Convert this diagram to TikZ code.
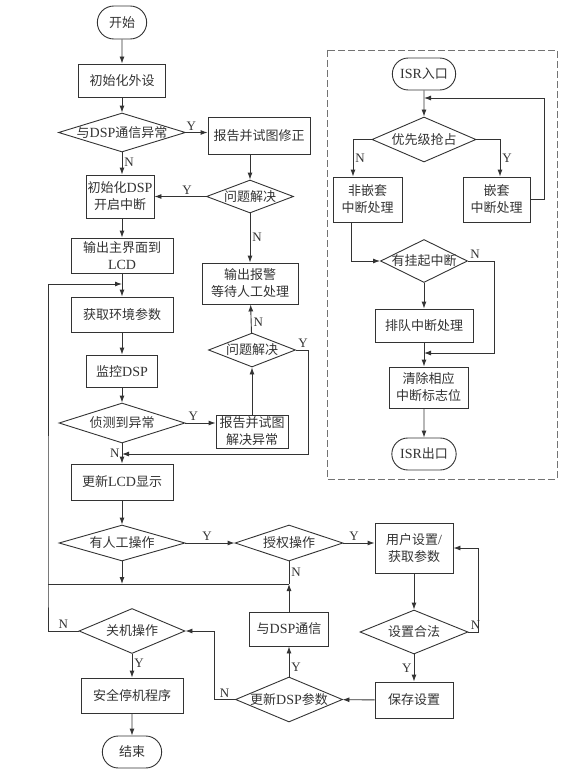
\documentclass[tikz,border=0pt]{standalone}
\usepackage{fontspec}
\setmainfont{Liberation Serif}
\newfontfamily\cjk{Noto Sans CJK SC}
\newcommand\latn[1]{{\rmfamily\fontsize{14}{17}\selectfont #1}}
\usetikzlibrary{shapes.geometric,shapes.misc,arrows.meta}

\begin{document}
\begin{tikzpicture}[x=1pt, y=-1pt, line width=0.9pt, color=black!80,
    font=\cjk\fontsize{13}{17}\selectfont, >={Latex[length=7pt,width=5pt]},
    proc/.style 2 args={draw, rectangle, minimum width=#1, minimum height=#2, align=center, inner sep=1pt},
    dec/.style 2 args={draw, diamond, minimum width=#1, minimum height=#2, inner sep=0pt},
    term/.style 2 args={draw, rounded rectangle, minimum width=#1, minimum height=#2},
    yn/.style={font=\rmfamily\fontsize{13}{14}\selectfont, inner sep=2pt}]
    \useasboundingbox (0,0) rectangle (587,776);

    % main loop
    \node[term={56pt}{33pt}] (start) at (122,22.5) {开始};
    \node[proc={87pt}{33pt}] (initdev) at (122,80.5) {初始化外设};
    \node[dec={127pt}{39pt}, label={center:与\latn{DSP}通信异常}] (chkcom) at (122,132.5) {};
    \node[proc={102pt}{37pt}] (report) at (259,135.5) {报告并试图修正};
    \node[dec={87pt}{33pt}, label={center:问题解决}] (solved) at (250,196.5) {};
    \node[proc={68pt}{43pt}] (initdsp) at (120,196.5) {初始化\latn{DSP}\\开启中断};
    \node[proc={102pt}{35pt}] (showlcd) at (122,255.5) {输出主界面到\\\latn{LCD}};
    \node[proc={96pt}{41pt}] (alarm) at (250,283.5) {输出报警\\等待人工处理};
    \node[proc={102pt}{35pt}] (getenv) at (122,314.5) {获取环境参数};
    \node[dec={87pt}{34pt}, label={center:问题解决}] (solved2) at (252,350) {};
    \node[proc={71pt}{32pt}] (monitor) at (122,371) {监控\latn{DSP}};
    \node[dec={126pt}{40pt}, label={center:侦测到异常}] (detect) at (122,423) {};
    \node[proc={72pt}{33pt}, inner ysep=0pt] (fixerr) at (252,431.5) {报告并试图\\解决异常};
    \node[proc={102pt}{36pt}] (updlcd) at (122,482) {更新\latn{LCD}显示};
    \node[dec={126pt}{36pt}, label={center:有人工操作}] (manual) at (122,543) {};
    \node[dec={108pt}{36pt}, label={center:授权操作}] (auth) at (289,543) {};
    \node[proc={78pt}{50pt}] (usrset) at (414,548) {用户设置\latn{/}\\获取参数};
    \node[dec={108pt}{44pt}, label={center:设置合法}] (legal) at (414,632) {};
    \node[proc={78pt}{36pt}] (save) at (414,700) {保存设置};
    \node[dec={107pt}{45pt}, label={center:更新\latn{DSP}参数}] (upddsp) at (289,699.5) {};
    \node[proc={79pt}{34pt}] (comdsp) at (289,629) {与\latn{DSP}通信};
    \node[dec={106pt}{45pt}, label={center:关机操作}] (shut) at (132,631) {};
    \node[proc={102pt}{35pt}] (halt) at (132,695.5) {安全停机程序};
    \node[term={66pt}{32pt}] (stop) at (132,752) {结束};

    \coordinate (loopin) at (122,284);
    \coordinate (mrgL) at (48,584);
    \coordinate (mrgR) at (289,584);
    \coordinate (errin) at (122,454);

    \draw[->] (start) -- (initdev);
    \draw[->] (initdev) -- (chkcom);
    \draw[->] (chkcom.east) -- node[yn, above, pos=0.25]{Y} (chkcom.east -| report.west);
    \draw[->] (chkcom.south) -- node[yn, right, pos=0.43]{N} (chkcom.south |- initdsp.north);
    \draw[->] (solved.north |- report.south) -- (solved.north);
    \draw[->] (solved.west) -- node[yn, above, pos=0.37]{Y} (solved.west -| initdsp.east);
    \draw[->] (solved.south) -- node[yn, right, pos=0.48]{N} (alarm.north);
    \draw[->] (showlcd.north |- initdsp.south) -- (showlcd.north);
    \draw[->] (showlcd) -- (getenv);
    \draw[->] (shut.west) -- node[yn, above]{N} (shut.west -| mrgL) -- (mrgL) |- (loopin);
    \draw (mrgL) -- (mrgR);
    \draw[->] (getenv) -- (monitor);
    \draw[->] (monitor) -- (detect);
    \draw[->] (detect.east) -- node[yn, above, pos=0.26]{Y} (detect.east -| fixerr.west);
    \draw[->] (fixerr) -- (solved2);
    \draw[->] (solved2) -- node[yn, right, pos=0.38]{N} (alarm);
    \draw[->] (solved2.east) node[yn, above right]{Y} -- ++(12,0) |- (errin);
    \draw[->] (detect.south) -- node[yn, left]{N} (updlcd.north);
    \draw[->] (updlcd) -- (manual);
    \draw[->] (manual.east) -- node[yn, above, pos=0.44]{Y} (auth.west);
    \draw[->] (manual.south) -- (manual.south |- mrgL);
    \draw (auth.south) -- node[yn, right]{N} (mrgR);
    \draw[->] (comdsp.north) -- (mrgR);
    \draw[->] (auth.east) -- node[yn, above, pos=0.34]{Y} (auth.east -| usrset.west);
    \draw[->] (usrset) -- (legal);
    \draw[->] (legal.east) node[yn, above right]{N} -- ++(10,0) |- (usrset.east);
    \draw[->] (legal) -- node[yn, left]{Y} (save);
    \draw[->] (save) -- (upddsp);
    \draw[->] (upddsp) -- node[yn, right, pos=0.3]{Y} (comdsp);
    \draw[->] (upddsp.west) -- node[yn, above]{N} ++(-21,0) |- (shut.east);
    \draw[->] (shut) -- node[yn, right, pos=0.4]{Y} (halt);
    \draw[->] (halt) -- (stop);

    % ISR
    \draw[dash pattern=on 7pt off 3pt, color=black!55] (327,50) rectangle (557,479);
    \node[term={70pt}{32pt}] (isrin) at (424,74) {\latn{ISR}入口};
    \node[dec={104pt}{45pt}, label={center:优先级抢占}] (prio) at (424,139.5) {};
    \node[proc={69pt}{45pt}] (nonest) at (367.5,199.5) {非嵌套\\中断处理};
    \node[proc={67pt}{45pt}] (nest) at (496.5,199.5) {嵌套\\中断处理};
    \node[dec={87pt}{43pt}, label={center:有挂起中断}] (pend) at (424,261) {};
    \node[proc={98pt}{33pt}] (queue) at (424,325.5) {排队中断处理};
    \node[proc={79pt}{41pt}] (clear) at (428.5,387.5) {清除相应\\中断标志位};
    \node[term={71pt}{32pt}] (isrout) at (424,454) {\latn{ISR}出口};

    \coordinate (nestin) at (424,98);
    \coordinate (qin) at (424,353);

    \draw[->] (isrin) -- (prio);
    \draw[->] (nest.east) -- ++(14,0) |- (nestin);
    \draw[->] (prio.west) -| node[yn, right, pos=0.75]{N} ([xshift=-14.5pt]nonest.north);
    \draw[->] (prio.east) -| node[yn, right, pos=0.75]{Y} ([xshift=3.5pt]nest.north);
    \draw[->] ([xshift=-16.5pt]nonest.south) |- (pend.west);
    \draw[->] (pend) -- (queue);
    \draw[->] (pend.east) node[yn, above right]{N} -- ++(26,0) |- (qin);
    \draw[->] (queue.south) -- (queue.south |- clear.north);
    \draw[->] (queue.south |- clear.south) -- (isrout);
\end{tikzpicture}
\end{document}
